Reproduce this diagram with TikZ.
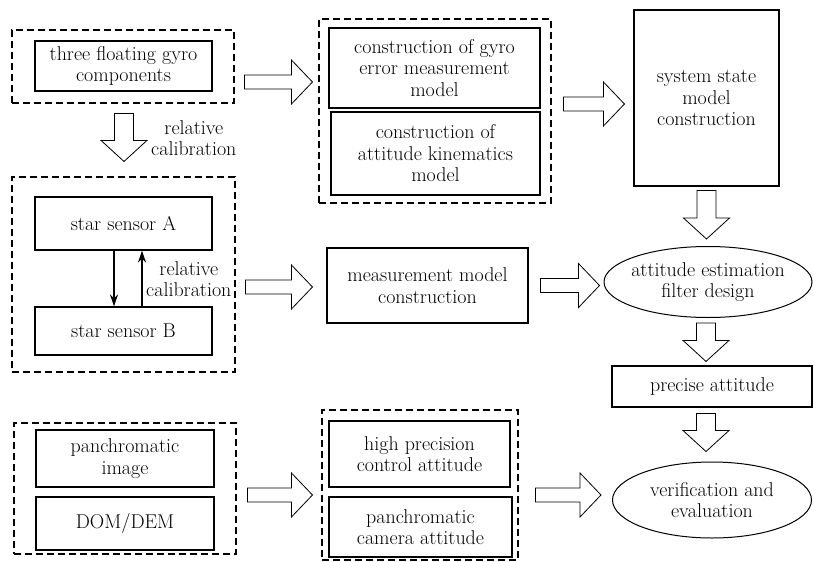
\documentclass[tikz,border=0pt]{standalone}
\usetikzlibrary{calc,shapes.geometric,arrows.meta}

\newcommand{\nodefont}{\fontsize{20}{21.5}\selectfont}
% hollow block arrows: #1 = start, #2 = point giving the tip
\newcommand{\fatright}[2]{%
  \draw[fat] let \p1=(#1), \p2=(#2) in
    (\x1,\y1+7pt) -- (\x2-21pt,\y1+7pt) -- (\x2-21pt,\y1+22pt) -- (\x2,\y1)
    -- (\x2-21pt,\y1-22pt) -- (\x2-21pt,\y1-7pt) -- (\x1,\y1-7pt) -- cycle;}
\newcommand{\fatdown}[2]{%
  \draw[fat] let \p1=(#1), \p2=(#2) in
    (\x1-9.5pt,\y1) -- (\x1-9.5pt,\y2+21pt) -- (\x1-23pt,\y2+21pt) -- (\x1,\y2)
    -- (\x1+23pt,\y2+21pt) -- (\x1+9.5pt,\y2+21pt) -- (\x1+9.5pt,\y1) -- cycle;}

\begin{document}
\begin{tikzpicture}[x=1pt,y=-1pt,
    box/.style={draw,line width=1.1pt,align=center,inner sep=1pt,font=\nodefont},
    grp/.style={draw,line width=1.1pt,dash pattern=on 7pt off 4pt,inner sep=0pt},
    oval/.style={draw,ellipse,line width=1pt,align=center,inner xsep=-20pt,inner ysep=0pt,font=\nodefont},
    fat/.style={draw,line width=0.8pt,fill=white},
    link/.style={-{Stealth[length=12pt,width=8pt]},line width=1.2pt},
    lbl/.style={align=center,inner sep=1pt,font=\nodefont}]
    \useasboundingbox (0,0) rectangle (814,562);
    % dashed groups
    \node[grp,minimum width=222,minimum height=73] (gyrogrp) at (123,66.5) {};
    \node[grp,minimum width=232,minimum height=184] (modelgrp) at (435,111) {};
    \node[grp,minimum width=223,minimum height=195] (stargrp) at (123.5,274.5) {};
    \node[grp,minimum width=222,minimum height=131] (imagegrp) at (125,488.5) {};
    \node[grp,minimum width=196,minimum height=150] (camgrp) at (420,485) {};
    % boxes
    \node[box,minimum width=177,minimum height=50] (gyro) at (123.5,66) {three floating gyro\\components};
    \node[box,minimum width=211,minimum height=80] (gyroerr) at (434.5,68) {construction of gyro\\error measurement\\model};
    \node[box,minimum width=209,minimum height=83] (kinem) at (435.5,153.5) {construction of\\attitude kinematics\\model};
    \node[box,minimum width=145,minimum height=176] (sysstate) at (706.5,98) {system state\\model\\construction};
    \node[box,minimum width=177,minimum height=53] (starA) at (123.5,223.5) {star sensor A};
    \node[box,minimum width=177,minimum height=48] (starB) at (123.5,331) {star sensor B};
    \node[box,minimum width=201,minimum height=75] (meas) at (427.5,285.5) {measurement model\\construction};
    \node[oval,minimum width=208,minimum height=71] (filter) at (708,282) {attitude estimation\\filter design};
    \node[box,minimum width=200,minimum height=41] (precise) at (712,386.5) {precise attitude};
    \node[oval,minimum width=199,minimum height=76] (verify) at (712,500) {verification and\\evaluation};
    \node[box,minimum width=178,minimum height=57] (pan) at (125,458.5) {panchromatic\\image};
    \node[box,minimum width=178,minimum height=53] (dom) at (125,523.5) {DOM/DEM};
    \node[box,minimum width=181,minimum height=66] (hpc) at (419.5,454) {high precision\\control attitude};
    \node[box,minimum width=183,minimum height=60] (pca) at (420.5,527) {panchromatic\\camera attitude};
    % star sensor links
    \draw[link] ([xshift=-9.5]starA.south) -- ([xshift=-9.5]starB.north);
    \draw[link] ([xshift=18.5]starB.north) -- ([xshift=18.5]starA.south);
    \node[lbl,anchor=west] (relB) at (145,279) {relative\\calibration};
    \node[lbl,anchor=west] (relA) at (150,138) {relative\\calibration};
    % block arrows
    \fatright{$(gyrogrp.east)+(10,15.5)$}{$(modelgrp.west)+(-6,0)$}
    \fatdown{$(gyrogrp.south)+(1,10)$}{$(stargrp.north)+(0,-15)$}
    \fatright{$(modelgrp.east)+(12,-7)$}{$(sysstate.west)+(-9,0)$}
    \fatdown{$(sysstate.south)+(0,4)$}{$(filter.north)+(0,-7)$}
    \fatright{$(stargrp.east)+(10,12.5)$}{$(meas.west)+(-14,0)$}
    \fatright{$(meas.east)+(12,0)$}{$(filter.west)+(-4,0)$}
    \fatdown{$(filter.south)+(-2,5)$}{$(precise.north)+(0,-4)$}
    \fatdown{$(precise.south)+(-6,6)$}{$(verify.north)+(0,-10)$}
    \fatright{$(imagegrp.east)+(11,6.5)$}{$(camgrp.west)+(-9,0)$}
    \fatright{$(camgrp.east)+(17,10)$}{$(verify.west)+(-11,0)$}
\end{tikzpicture}
\end{document}
